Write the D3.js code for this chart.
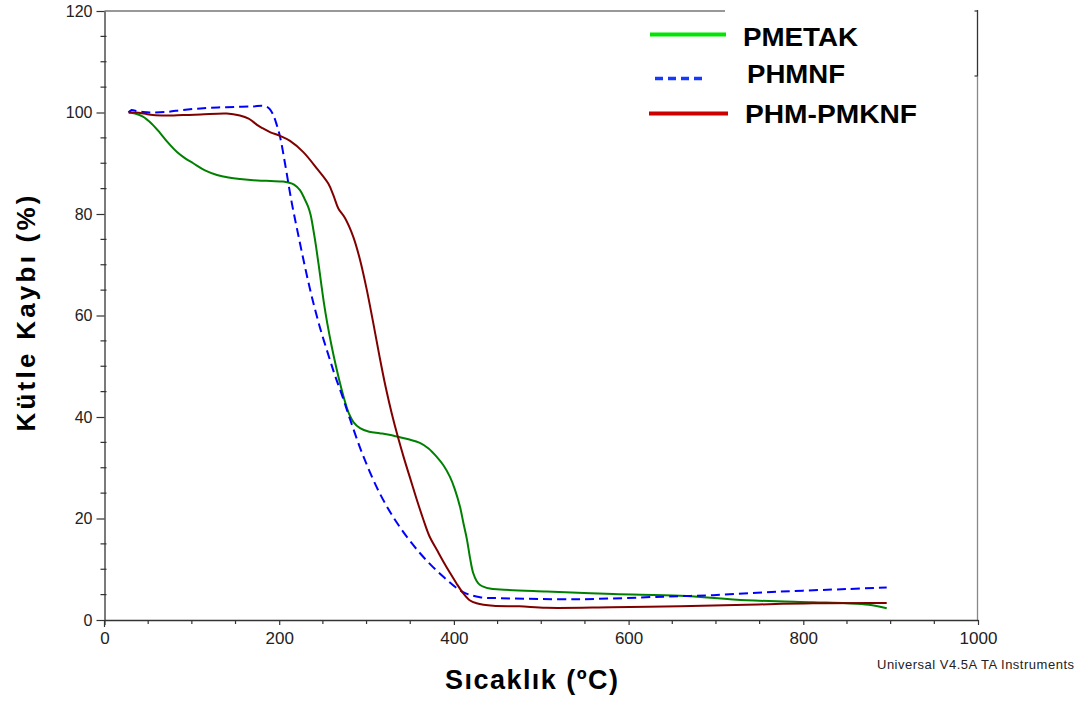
<!DOCTYPE html>
<html>
<head>
<meta charset="utf-8">
<script src="https://cdn.jsdelivr.net/npm/d3@7"></script>
<style>
  html, body { margin: 0; padding: 0; background: #fff; }
  svg { display: block; font-family: "Liberation Sans", Arial, sans-serif; }
</style>
</head>
<body>
<svg id="chart" width="1085" height="704"></svg>
<script>
// ---- data (temperature °C, mass %) ----
const seriesNames = ["PMETAK", "PHMNF", "PHM-PMKNF"];

const pmetakT = [28,35,44,54,63.5,73,83,92,101.6,115,128.8,142,155,175,190,204.5,210.4,217,223.8,229,233,236,239,242,245,248,251,255,260,265,270,275,280,285,292.5,303,315,326,336,348,361,371,380.6,388,395.5,401,407,411,415,418.5,422,426,430,441,453,506,582.5,659,735,811,850,875,895.5];
const pmetakM = [100,99.8,99.2,97.8,96,94,92.2,91,90,88.6,87.7,87.2,86.9,86.6,86.5,86.4,86.2,85.8,84.7,83,81.5,79.8,77,73.8,70.2,66.4,62.7,58.5,54,50,46.4,43.2,40.6,39,37.8,37.1,36.8,36.5,36.1,35.6,34.9,33.8,32.1,30.5,28.2,25.8,22.3,19,15.8,12.2,9.3,7.7,6.9,6.2,6.0,5.6,5.1,4.8,3.9,3.5,3.3,3.0,2.3];

const phmnfT = [27.5,31,36,44,52,70,90,110,130,150,170,181,186,189,193,196,201,206.6,214.3,221.9,229.5,237.2,246.7,258.2,264,271.5,281,296,315,335,361,388,410.5,430,453,544.5,640,697,773.5,850,895.5];
const phmnfM = [100,100.5,100.3,100.1,100,100.1,100.5,100.8,101,101.1,101.2,101.3,101.1,100.7,99.6,98.2,95.2,90,82.3,75.8,69.6,63.8,57.6,51.2,48.1,44.5,39.6,32.4,25,19.1,13.2,8.5,5.5,4.5,4.3,4.1,4.6,4.9,5.6,6.1,6.4];

const phmPmknfT = [27.5,35,45,55.5,70,90,110,140,155,165,170,176,181,190,201,212.4,227.6,243,256.2,262,267.7,275.3,284.8,292.5,300,307.5,315,322,329,336,343,350,357,365,372,380.6,388,395.5,403,410.5,418,426,445,475,506,580,659,735,811,895.5];
const phmPmknfM = [100,100,99.8,99.5,99.4,99.5,99.6,99.8,99.4,98.8,98.2,97.4,96.9,96.1,95.4,94.4,92.2,89,86,83.7,81.1,79.2,75.5,71,65.3,58.7,51.8,45.8,40.6,36,31.8,27.9,24,19.8,16.5,13.8,11.5,9.3,7.2,5.3,3.9,3.3,2.8,2.7,2.4,2.5,2.7,3.0,3.3,3.35];

const xTickValues = [0, 200, 400, 600, 800, 1000];
const yTickValues = [0, 20, 40, 60, 80, 100, 120];

// ---- layout ----
const svg = d3.select("#chart");
const x = d3.scaleLinear().domain([0, 1000]).range([104.5, 978]);
const y = d3.scaleLinear().domain([0, 120]).range([620, 11]);

const series = [
  { name: seriesNames[0], T: pmetakT, M: pmetakM, color: "#008000", legendColor: "#00e600", dash: null },
  { name: seriesNames[1], T: phmnfT, M: phmnfM, color: "#0000ff", legendColor: "#1438ff", dash: "9,5" },
  { name: seriesNames[2], T: phmPmknfT, M: phmPmknfM, color: "#800000", legendColor: "#cc0000", dash: null }
];

// frame: top line (partially), right line
svg.append("line").attr("x1", 104.5).attr("x2", 725).attr("y1", 11).attr("y2", 11)
  .attr("stroke", "#333").attr("stroke-width", 1.2);
svg.append("line").attr("x1", 977.5).attr("x2", 977.5).attr("y1", 10).attr("y2", 76)
  .attr("stroke", "#333").attr("stroke-width", 1.3);
svg.append("line").attr("x1", 977.5).attr("x2", 977.5).attr("y1", 76).attr("y2", 620)
  .attr("stroke", "#888").attr("stroke-width", 1.3);
[11, 76].forEach(v => svg.append("line").attr("x1", 974.5).attr("x2", 977.5).attr("y1", v).attr("y2", v)
  .attr("stroke", "#333").attr("stroke-width", 1.2));

// y axis
const yAxis = svg.append("g").attr("transform", `translate(${x(0)},0)`)
  .call(d3.axisLeft(y).tickValues(yTickValues).tickFormat(d3.format("d")).tickSize(8).tickPadding(4).tickSizeOuter(0));
yAxis.select(".domain").attr("stroke", "#333").attr("stroke-width", 1.3);
yAxis.selectAll(".tick line").attr("stroke", "#333").attr("stroke-width", 1.2);
yAxis.selectAll(".tick text").attr("font-size", 16).attr("fill", "#222")
  .attr("font-family", "Liberation Sans, Arial, sans-serif");
d3.range(0, 121, 5).filter(v => v % 20 !== 0).forEach(v => {
  svg.append("line").attr("x1", x(0) - 4).attr("x2", x(0) + 2)
    .attr("y1", y(v)).attr("y2", y(v)).attr("stroke", "#333").attr("stroke-width", 1.2);
});

// x axis
const xAxis = svg.append("g").attr("transform", `translate(0,${y(0)})`)
  .call(d3.axisBottom(x).tickValues(xTickValues).tickFormat(d3.format("d")).tickSize(5).tickPadding(7).tickSizeOuter(0));
xAxis.select(".domain").attr("stroke", "#333").attr("stroke-width", 1.3);
xAxis.selectAll(".tick line").attr("stroke", "#333").attr("stroke-width", 1.2);
xAxis.selectAll(".tick text").attr("font-size", 17).attr("fill", "#222")
  .attr("font-family", "Liberation Sans, Arial, sans-serif");
d3.range(0, 1001, 50).filter(v => v % 200 !== 0).forEach(v => {
  svg.append("line").attr("x1", x(v)).attr("x2", x(v))
    .attr("y1", y(0)).attr("y2", y(0) + 4).attr("stroke", "#333").attr("stroke-width", 1.2);
});
svg.append("line").attr("x1", x(0)).attr("x2", x(0)).attr("y1", y(0)).attr("y2", y(0) + 7)
  .attr("stroke", "#333").attr("stroke-width", 1.2);

// curves
const line = d3.line().x(d => x(d[0])).y(d => y(d[1])).curve(d3.curveCatmullRom.alpha(0.5));
series.forEach(s => {
  const pts = s.T.map((t, i) => [t, s.M[i]]);
  svg.append("path").datum(pts).attr("d", line)
    .attr("fill", "none").attr("stroke", s.color).attr("stroke-width", 2)
    .attr("stroke-dasharray", s.dash);
});

// legend
const legendRows = [
  { x1: 650, x2: 726, ly: 34.5, tx: 743, ty: 46, tl: 115, w: 4 },
  { x1: 655, x2: 704, ly: 78.5, tx: 747, ty: 83, tl: 98, w: 3.5 },
  { x1: 649, x2: 728, ly: 113.5, tx: 745, ty: 122.5, tl: 172, w: 4 }
];
series.forEach((s, i) => {
  const r = legendRows[i];
  svg.append("line").attr("x1", r.x1).attr("x2", r.x2).attr("y1", r.ly).attr("y2", r.ly)
    .attr("stroke", s.legendColor).attr("stroke-width", r.w)
    .attr("stroke-dasharray", s.dash ? "8,5" : null);
  svg.append("text").attr("x", r.tx).attr("y", r.ty).text(s.name)
    .attr("font-size", 25).attr("font-weight", "bold").attr("fill", "#000")
    .attr("textLength", r.tl).attr("lengthAdjust", "spacingAndGlyphs");
});

// axis titles
svg.append("text").attr("transform", "translate(34.5,313.5) rotate(-90)")
  .attr("text-anchor", "middle").attr("font-size", 26).attr("font-weight", "bold")
  .attr("textLength", 236).attr("lengthAdjust", "spacing")
  .text("Kütle Kaybı (%)");
svg.append("text").attr("x", 531.5).attr("y", 688.5)
  .attr("text-anchor", "middle").attr("font-size", 27).attr("font-weight", "bold")
  .attr("textLength", 173).attr("lengthAdjust", "spacing")
  .text("Sıcaklık (ºC)");

svg.append("text").attr("x", 877).attr("y", 669)
  .attr("font-size", 13).attr("fill", "#222")
  .attr("textLength", 197).attr("lengthAdjust", "spacing")
  .text("Universal V4.5A TA Instruments");
</script>
</body>
</html>
